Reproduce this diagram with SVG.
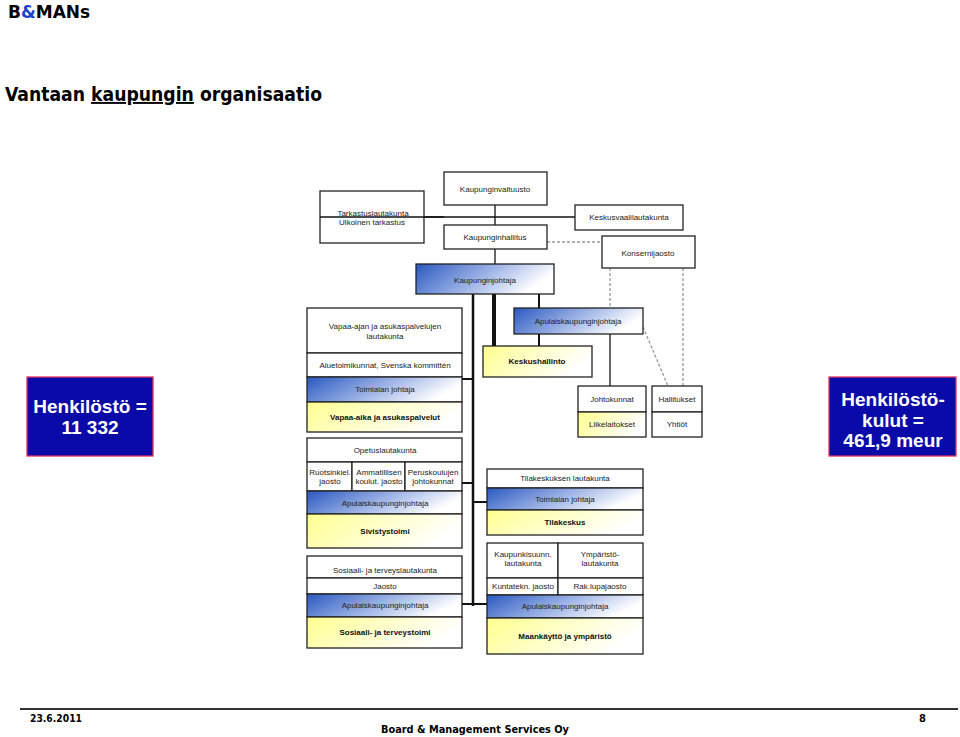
<svg xmlns="http://www.w3.org/2000/svg" width="960" height="737" viewBox="0 0 960 737">
<defs>
<linearGradient id="gb" x1="0" y1="0" x2="1" y2="0.3">
<stop offset="0" stop-color="#2a58c0"/>
<stop offset="0.55" stop-color="#9db3e6"/>
<stop offset="1" stop-color="#ffffff"/>
</linearGradient>
<linearGradient id="gy" x1="0" y1="0" x2="1" y2="0.3">
<stop offset="0" stop-color="#ffff90"/>
<stop offset="1" stop-color="#ffffff"/>
</linearGradient>
<style>
.bx{fill:#fff;stroke:#222;stroke-width:1.3}
.bl{fill:url(#gb);stroke:#222;stroke-width:1.3}
.ye{fill:url(#gy);stroke:#222;stroke-width:1.3}
.t{font-family:"Liberation Sans",Arial,sans-serif;font-size:8px;fill:#222;text-anchor:middle}
.tb{font-family:"Liberation Sans",Arial,sans-serif;font-size:8px;font-weight:bold;fill:#111;text-anchor:middle}
.ln{stroke:#111;fill:none}
.ds{stroke:#999;stroke-width:1.3;stroke-dasharray:3,2;fill:none}
.big{font-family:"Liberation Sans",Arial,sans-serif;font-size:19px;font-weight:bold;fill:#fff;text-anchor:middle}
.hd{font-family:"DejaVu Sans Condensed","DejaVu Sans",sans-serif;font-weight:bold;fill:#000}
</style>
</defs>
<rect width="960" height="737" fill="#fff"/>
<g id="header">
<text x="8" y="18" font-family="DejaVu Sans,sans-serif" font-weight="bold" font-size="17" fill="#000">B<tspan fill="#1a3fc8">&amp;</tspan>MANs</text>
<text class="hd" x="5" y="101" font-size="19" textLength="317" lengthAdjust="spacingAndGlyphs">Vantaan <tspan text-decoration="underline">kaupungin</tspan> organisaatio</text>
</g>
<g id="connectors">
<line class="ln" x1="495" y1="205" x2="495" y2="225" stroke-width="1.3"/>
<line class="ln" x1="495" y1="249" x2="495" y2="264" stroke-width="1.3"/>
<line class="ln" x1="320" y1="217" x2="575" y2="217" stroke-width="1.3"/>
<line class="ds" x1="547" y1="242" x2="602" y2="242"/>
<line class="ds" x1="610" y1="268" x2="610" y2="308"/>
<line class="ds" x1="683" y1="268" x2="683" y2="386"/>
<line class="ds" x1="643" y1="327" x2="668" y2="386"/>
<line class="ln" x1="473" y1="294" x2="473" y2="606" stroke-width="2.5"/>
<line class="ln" x1="494" y1="294" x2="494" y2="346" stroke-width="4"/>
<line class="ln" x1="539" y1="294" x2="539" y2="308" stroke-width="2"/>
<line class="ln" x1="539" y1="334" x2="539" y2="346" stroke-width="2"/>
<line class="ln" x1="610" y1="334" x2="610" y2="386" stroke-width="1.3"/>
<line class="ln" x1="462" y1="379" x2="473" y2="379" stroke-width="2"/>
<line class="ln" x1="462" y1="483" x2="473" y2="483" stroke-width="2"/>
<line class="ln" x1="473" y1="502" x2="487" y2="502" stroke-width="2"/>
<line class="ln" x1="462" y1="604" x2="487" y2="604" stroke-width="2"/>
</g>
<g id="kaupunginvaltuusto">
<rect class="bx" x="444" y="172" width="103" height="33"/>
<text class="t" x="495" y="192">Kaupunginvaltuusto</text>
</g>
<g id="tarkastuslautakunta">
<rect class="bx" x="320" y="191" width="104" height="52"/>
<text class="t" x="373" y="216">Tarkastuslautakunta</text>
<text class="t" x="372" y="225">Ulkoinen tarkastus</text>
</g>
<line class="ln" x1="320" y1="217" x2="444" y2="217" stroke-width="1.3"/>
<g id="keskusvaalilautakunta">
<rect class="bx" x="575" y="205" width="108" height="25"/>
<text class="t" x="629" y="220">Keskusvaalilautakunta</text>
</g>
<g id="kaupunginhallitus">
<rect class="bx" x="444" y="225" width="103" height="24"/>
<text class="t" x="495" y="240">Kaupunginhallitus</text>
</g>
<g id="konsernijaosto">
<rect class="bx" x="602" y="236" width="93" height="32"/>
<text class="t" x="648" y="256">Konsernijaosto</text>
</g>
<g id="kaupunginjohtaja">
<rect class="bl" x="416" y="264" width="138" height="30"/>
<text class="t" x="485" y="283">Kaupunginjohtaja</text>
</g>
<g id="apulaiskaupunginjohtaja">
<rect class="bl" x="514" y="308" width="129" height="26"/>
<text class="t" x="578" y="324">Apulaiskaupunginjohtaja</text>
</g>
<g id="keskushallinto">
<rect class="ye" x="483" y="346" width="109" height="31"/>
<text class="tb" x="537" y="364">Keskushallinto</text>
</g>
<g id="johtokunnat">
<rect class="bx" x="578" y="386" width="68" height="26"/>
<rect class="ye" x="578" y="412" width="68" height="25"/>
<text class="t" x="612" y="402">Johtokunnat</text>
<text class="t" x="612" y="427">Liikelaitokset</text>
</g>
<g id="hallitukset">
<rect class="bx" x="652" y="386" width="50" height="26"/>
<rect class="bx" x="652" y="412" width="50" height="25"/>
<text class="t" x="677" y="402">Hallitukset</text>
<text class="t" x="677" y="427">Yhtiöt</text>
</g>
<g id="vapaa-aika">
<rect class="bx" x="307" y="308" width="155" height="45"/>
<rect class="bx" x="307" y="353" width="155" height="24"/>
<rect class="bl" x="307" y="377" width="155" height="25"/>
<rect class="ye" x="307" y="402" width="155" height="30"/>
<text class="t" x="385" y="329">Vapaa-ajan ja asukaspalvelujen</text>
<text class="t" x="385" y="339">lautakunta</text>
<text class="t" x="385" y="368">Aluetoimikunnat, Svenska kommittén</text>
<text class="t" x="385" y="392">Toimialan johtaja</text>
<text class="tb" x="385" y="420">Vapaa-aika ja asukaspalvelut</text>
</g>
<g id="sivistystoimi">
<rect class="bx" x="307" y="438" width="155" height="24"/>
<rect class="bx" x="307" y="462" width="45" height="29"/>
<rect class="bx" x="352" y="462" width="53" height="29"/>
<rect class="bx" x="405" y="462" width="57" height="29"/>
<rect class="bl" x="307" y="491" width="155" height="23"/>
<rect class="ye" x="307" y="514" width="155" height="34"/>
<text class="t" x="385" y="453">Opetuslautakunta</text>
<text class="t" x="330" y="475">Ruotsinkiel.</text>
<text class="t" x="330" y="484">jaosto</text>
<text class="t" x="379" y="475">Ammatillisen</text>
<text class="t" x="379" y="484">koulut. jaosto</text>
<text class="t" x="433" y="475">Peruskoulujen</text>
<text class="t" x="433" y="484">johtokunnat</text>
<text class="t" x="385" y="506">Apulaiskaupunginjohtaja</text>
<text class="tb" x="385" y="534">Sivistystoimi</text>
</g>
<g id="sosiaali">
<rect class="bx" x="307" y="556" width="155" height="22"/>
<rect class="bx" x="307" y="578" width="155" height="16"/>
<rect class="bl" x="307" y="594" width="155" height="23"/>
<rect class="ye" x="307" y="617" width="155" height="31"/>
<text class="t" x="385" y="573">Sosiaali- ja terveyslautakunta</text>
<text class="t" x="385" y="589">Jaosto</text>
<text class="t" x="385" y="608">Apulaiskaupunginjohtaja</text>
<text class="tb" x="385" y="635">Sosiaali- ja terveystoimi</text>
</g>
<g id="tilakeskus">
<rect class="bx" x="487" y="469" width="156" height="19"/>
<rect class="bl" x="487" y="488" width="156" height="22"/>
<rect class="ye" x="487" y="510" width="156" height="25"/>
<text class="t" x="565" y="481">Tilakeskuksen lautakunta</text>
<text class="t" x="565" y="502">Toimialan johtaja</text>
<text class="tb" x="565" y="525">Tilakeskus</text>
</g>
<g id="maankaytto">
<rect class="bx" x="487" y="543" width="71" height="35"/>
<rect class="bx" x="558" y="543" width="85" height="35"/>
<rect class="bx" x="487" y="578" width="71" height="17"/>
<rect class="bx" x="558" y="578" width="85" height="17"/>
<rect class="bl" x="487" y="595" width="156" height="23"/>
<rect class="ye" x="487" y="618" width="156" height="36"/>
<text class="t" x="523" y="557">Kaupunkisuunn.</text>
<text class="t" x="523" y="566">lautakunta</text>
<text class="t" x="600" y="557">Ympäristö-</text>
<text class="t" x="600" y="566">lautakunta</text>
<text class="t" x="523" y="589">Kuntatekn. jaosto</text>
<text class="t" x="600" y="589">Rak.lupajaosto</text>
<text class="t" x="565" y="609">Apulaiskaupunginjohtaja</text>
<text class="tb" x="565" y="639">Maankäyttö ja ympäristö</text>
</g>
<g id="henkilosto">
<rect x="27" y="377" width="126" height="79" fill="#0a0aa8" stroke="#e03060" stroke-width="1.3"/>
<text class="big" x="90" y="413">Henkilöstö =</text>
<text class="big" x="90" y="434">11 332</text>
</g>
<g id="henkilostokulut">
<rect x="829" y="377" width="127" height="79" fill="#0a0aa8" stroke="#e03060" stroke-width="1.3"/>
<text class="big" x="893" y="406">Henkilöstö-</text>
<text class="big" x="893" y="427">kulut =</text>
<text class="big" x="893" y="447">461,9 meur</text>
</g>
<g id="footer">
<line x1="20" y1="709" x2="958" y2="709" stroke="#333" stroke-width="2"/>
<text class="hd" x="30" y="722" font-size="11" textLength="52" lengthAdjust="spacingAndGlyphs">23.6.2011</text>
<text class="hd" x="381" y="733" font-size="11" textLength="188" lengthAdjust="spacingAndGlyphs">Board &amp; Management Services Oy</text>
<text class="hd" x="919" y="722" font-size="11">8</text>
</g>
</svg>
